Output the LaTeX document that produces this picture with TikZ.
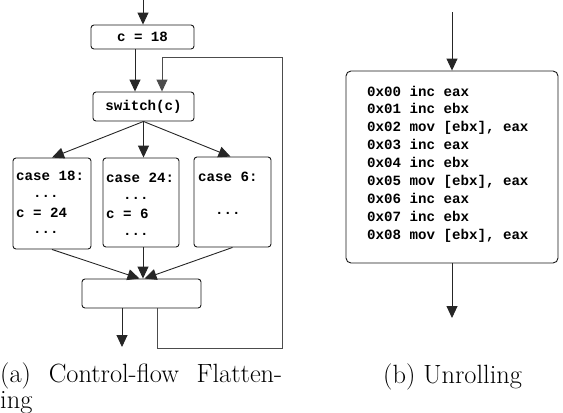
\documentclass[tikz,border=0pt]{standalone}
\usepackage{fontspec}
\newfontfamily\cf{Liberation Mono}
\usetikzlibrary{arrows.meta}
\tikzset{
  box/.style={draw=black!90, line width=0.9bp, rounded corners=3bp, inner sep=0pt, fill=white},
  code/.style={font={\cf\bfseries\fontsize{14.2}{17}\selectfont}, inner sep=0pt},
  codel/.style={code, anchor=base west},
  arr/.style={draw=black!85, line width=0.9bp, -{Triangle[width=11bp,length=12bp]}},
  loopline/.style={arr, draw=black!70},
  captext/.style={font={\fontsize{26.5}{29}\selectfont}, inner sep=0pt, anchor=base west},
}
\begin{document}
\begin{tikzpicture}[x=1bp, y=-1bp]
\useasboundingbox (0,0) rectangle (563,412);

% (a) control-flow flattening
\node[box, code, minimum width=103bp, minimum height=24bp] (c18) at (142.5,37) {c = 18};
\node[box, code, minimum width=101bp, minimum height=29bp] (sw) at (143.5,106.5) {switch(c)};
\node[box, minimum width=78bp, minimum height=91bp] (cA) at (52,203.5) {};
\node[box, minimum width=76bp, minimum height=89bp] (cB) at (141,202.5) {};
\node[box, minimum width=77bp, minimum height=90bp] (cC) at (232.5,202) {};
\node[box, minimum width=119bp, minimum height=29bp] (bot) at (141.5,293.5) {};

\node[codel] (a1) at (16,180) {case 18:};
\node[codel] (a2) at (16,197) {\hphantom{cc}...};
\node[codel] (a3) at (16,217) {c = 24};
\node[codel] (a4) at (16,233) {\hphantom{cc}...};

\node[codel] (b1) at (106,182) {case 24:};
\node[codel] (b2) at (106,199) {\hphantom{cc}...};
\node[codel] (b3) at (106,218) {c = 6};
\node[codel] (b4) at (106,235) {\hphantom{cc}...};

\node[codel] (d1) at (198,181) {case 6:};
\node[codel] (d2) at (198,214) {\hphantom{cc}...};

\coordinate (inA) at (143,0);
\coordinate (k135) at (135,0);
\coordinate (k143) at (143,0);
\coordinate (k157) at (157,0);
\coordinate (k162) at (162,0);
\coordinate (lr) at (282,348);
\coordinate (lt) at (282,57);
\coordinate (outA) at (122,347);

\draw[arr] (inA) -- (inA |- c18.north);
\draw[arr] (c18.south -| k135) -- (sw.north -| k135);
\draw[loopline] (bot.south -| k157) |- (lr) -- (lt) -| (sw.north -| k162);
\draw[arr] (sw.south) -- (cA.north);
\draw[arr] (sw.south) -- (sw.south |- cB.north);
\draw[arr] (sw.south) -- ([xshift=-2bp]cC.north);
\draw[arr] (cA.south) -- ([xshift=-2bp]bot.north);
\draw[arr] (cB.south -| k143) -- (bot.north -| k143);
\draw[arr] (cC.south) -- ([xshift=3bp]bot.north);
\draw[arr] (bot.south -| outA) -- (outA);

\node[captext] (capA) at (0,382) {\makebox[282bp][s]{(a) Control-flow Flatten-}};
\node[captext] (capA2) at (0,408) {ing};

% (b) unrolling
\node[box, rounded corners=5bp, minimum width=212bp, minimum height=192bp] (code) at (452,167) {};
\foreach \t [count=\i from 0] in {0x00 inc eax, 0x01 inc ebx, {0x02 mov [ebx], eax}, 0x03 inc eax, 0x04 inc ebx, {0x05 mov [ebx], eax}, 0x06 inc eax, 0x07 inc ebx, {0x08 mov [ebx], eax}}
  \node[codel] (L\i) at (367,{96+17.9*\i}) {\t};

\coordinate (inB) at (452,12);
\coordinate (outB) at (452,318);
\draw[arr] (inB) -- (code.north);
\draw[arr] (code.south) -- (outB);

\node[captext] (capB) at (383,383) {(b) Unrolling};
\end{tikzpicture}
\end{document}
